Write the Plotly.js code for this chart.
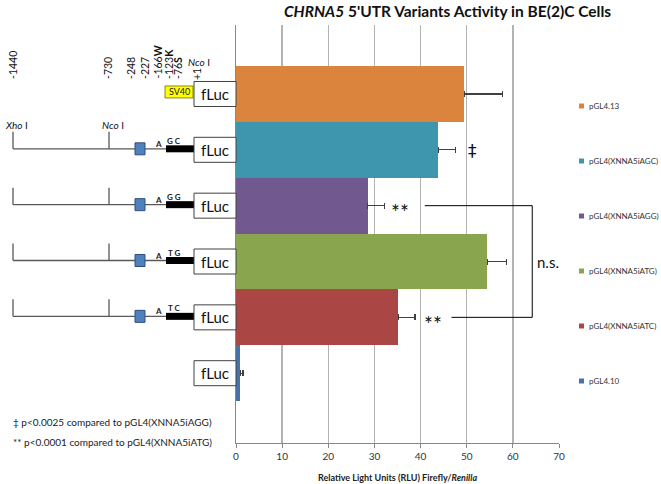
<!DOCTYPE html>
<html><head><meta charset="utf-8">
<script src="https://cdn.plot.ly/plotly-3.0.1.min.js"></script>
<style>html,body{margin:0;padding:0;background:#fff}#chart{width:661px;height:484px}</style>
</head><body><div id="chart"></div>
<script>
// ---- data ----
const constructs = ['pGL4.13','pGL4(XNNA5iAGC)','pGL4(XNNA5iAGG)','pGL4(XNNA5iATG)','pGL4(XNNA5iATC)','pGL4.10'];
const activity = [49.5, 43.8, 28.5, 54.5, 35.2, 0.9];
const errorPlus = [8.2, 3.8, 3.6, 4.2, 3.6, 0.6];
const colors = ['#DB843D','#3D96AE','#71588F','#89A54E','#AA4643','#4572A7'];
const xTicks = [0,10,20,30,40,50,60,70];
const variantBases = [null,'G C','G G','T G','T C',null];
const positionLabels = ['-1440','-730','-248','-227','-166<b>W</b>','-123<b>K</b>','-76<b>S</b>','+1'];
const footnotes = ['‡ p&lt;0.0025 compared to pGL4(XNNA5iAGG)','** p&lt;0.0001 compared to pGL4(XNNA5iATG)'];

// ---- layout helpers (pixel -> paper) ----
const PL=236, PW=323, PB=443, PH=418;
const X = px => (px-PL)/PW;
const Yp = py => (PB-py)/PH;
const R = 55.85; // pixels per category row
const positionX = [13,108,131,145,157,169,178,197];
const FONT = 'Lato, "Open Sans", sans-serif';

const traces = constructs.map((c,i)=>({
  type:'bar', orientation:'h', name:c, showlegend:false,
  y:[c], x:[activity[i]],
  marker:{color:colors[i], line:{width:0}},
  error_x:{type:'data', symmetric:false, array:[errorPlus[i]], arrayminus:[0], color:'#404040', thickness:1.2, width:3}
}));

const shapes=[], annotations=[];
function ann(o){ annotations.push(Object.assign({showarrow:false, xanchor:'center', yanchor:'middle'}, o)); }

constructs.forEach((c,i)=>{
  if(variantBases[i]){
    const y0=i-1/R;
    shapes.push({type:'line',xref:'paper',yref:'y',x0:X(13),x1:X(194),y0:y0,y1:y0,line:{color:'#595959',width:1.3}});
    shapes.push({type:'line',xref:'paper',yref:'y',x0:X(13),x1:X(13),y0:y0-17/R,y1:y0,line:{color:'#595959',width:1.3}});
    shapes.push({type:'line',xref:'paper',yref:'y',x0:X(109),x1:X(109),y0:y0-17/R,y1:y0,line:{color:'#595959',width:1.3}});
    shapes.push({type:'rect',xref:'paper',yref:'y',x0:X(135),x1:X(145),y0:y0-6/R,y1:y0+6/R,fillcolor:'#4F81BD',line:{color:'#2F4F7F',width:1}});
    shapes.push({type:'rect',xref:'paper',yref:'y',x0:X(166),x1:X(194),y0:y0-3.5/R,y1:y0+3.5/R,fillcolor:'#000',line:{width:0}});
    ann({xref:'paper',yref:'y',x:X(158),y:y0-5/R,text:'<b>A</b>',font:{family:FONT,size:8,color:'#222'}});
    ann({xref:'paper',yref:'y',x:X(174),y:y0-8/R,text:'<b>'+variantBases[i]+'</b>',font:{family:FONT,size:8,color:'#222'}});
  }
  shapes.push({type:'rect',xref:'paper',yref:'y',x0:X(194),x1:X(236),y0:i-12.5/R,y1:i+12.5/R,fillcolor:'#fff',line:{color:'#404040',width:1}});
  ann({xref:'paper',yref:'y',x:X(215),y:i,text:'fLuc',font:{family:FONT,size:15,color:'#111'}});
  // legend entry: labels & colours from the data arrays
  const ly = 106 + 55*i;
  shapes.push({type:'rect',xref:'paper',yref:'paper',x0:X(579),x1:X(584),y0:Yp(ly+2.5),y1:Yp(ly-2.5),fillcolor:colors[i],line:{width:0}});
  ann({xref:'paper',yref:'paper',x:X(587),y:Yp(ly),xanchor:'left',text:c,font:{family:FONT,size:8,color:'#333'}});
});
// SV40 promoter
shapes.push({type:'rect',xref:'paper',yref:'y',x0:X(165),x1:X(193),y0:-8/R,y1:4/R,fillcolor:'#FFFF00',line:{color:'#6b6b00',width:0.8}});
ann({xref:'paper',yref:'y',x:X(179),y:-2/R,text:'SV40',font:{family:FONT,size:9,color:'#222'}});
// restriction sites
ann({xref:'paper',yref:'y',x:X(3),y:1-25/R,xanchor:'left',text:'<i>Xho</i> I',font:{family:FONT,size:10,color:'#111'}});
ann({xref:'paper',yref:'y',x:X(100),y:1-25/R,xanchor:'left',text:'<i>Nco</i> I',font:{family:FONT,size:10,color:'#111'}});
ann({xref:'paper',yref:'paper',x:X(186),y:Yp(62),xanchor:'left',text:'<i>Nco</i> I',font:{family:FONT,size:10,color:'#111'}});
positionLabels.forEach((t,k)=>{
  ann({xref:'paper',yref:'paper',x:X(positionX[k]),y:Yp(k===7?82:81),yanchor:'bottom',textangle:-90,text:t,font:{family:FONT,size:10.5,color:'#111'}});
});
// footnotes
footnotes.forEach((t,k)=>{
  ann({xref:'paper',yref:'paper',x:X(11),y:Yp(422+20*k),xanchor:'left',text:t,font:{family:FONT,size:10,color:'#222'}});
});
// significance marks
ann({xref:'x',yref:'y',x:51.2,y:1+1/R,text:'‡',font:{family:'DejaVu Sans',size:17,color:'#111'}});
ann({xref:'x',yref:'y',x:35.6,y:2,yshift:-6,text:'**',font:{family:FONT,size:21,color:'#111'}});
ann({xref:'x',yref:'y',x:42.6,y:4,yshift:-6,text:'**',font:{family:FONT,size:21,color:'#111'}});
ann({xref:'x',yref:'y',x:64.9,y:3,xanchor:'left',text:'n.s.',font:{family:FONT,size:15,color:'#111'}});
shapes.push({type:'line',xref:'x',yref:'y',x0:40.9,x1:64.2,y0:2,y1:2,line:{color:'#000',width:1}});
shapes.push({type:'line',xref:'x',yref:'y',x0:64.2,x1:64.2,y0:2,y1:4,line:{color:'#000',width:1}});
shapes.push({type:'line',xref:'x',yref:'y',x0:46.7,x1:64.2,y0:4,y1:4,line:{color:'#000',width:1}});

const layout = {
  width:661, height:484,
  margin:{l:PL, r:661-PL-PW, t:PB-PH, b:484-PB},
  paper_bgcolor:'#fff', plot_bgcolor:'#fff',
  font:{family:FONT, color:'#222'},
  barmode:'overlay', bargap:0,
  title:{text:'<b><i>CHRNA5</i> 5\'UTR Variants Activity in BE(2)C Cells</b>', font:{family:FONT,size:15.5,color:'#111'}, xref:'paper', x:X(447.5), xanchor:'center', yref:'container', y:1-12/484, yanchor:'middle'},
  xaxis:{range:[0,70], tickvals:xTicks, ticks:'outside', ticklen:4, tickcolor:'#888', showline:true, linecolor:'#888', linewidth:1,
         showgrid:true, gridcolor:'#B3B3B3', gridwidth:1.3, zeroline:false, tickfont:{family:FONT,size:10,color:'#333'},
         title:{text:'<b>Relative Light Units (RLU) Firefly/<i>Renilla</i></b>', font:{family:FONT,size:9,color:'#222'}, standoff:13}},
  yaxis:{type:'category', categoryorder:'array', categoryarray:constructs, range:[6.25,-1.235], showticklabels:false, ticks:'',
         showgrid:false, zeroline:false, showline:true, linecolor:'#888', linewidth:1},
  showlegend:false,
  shapes:shapes, annotations:annotations, hovermode:false
};
Plotly.newPlot('chart', traces, layout, {staticPlot:true, displayModeBar:false});
</script></body></html>
